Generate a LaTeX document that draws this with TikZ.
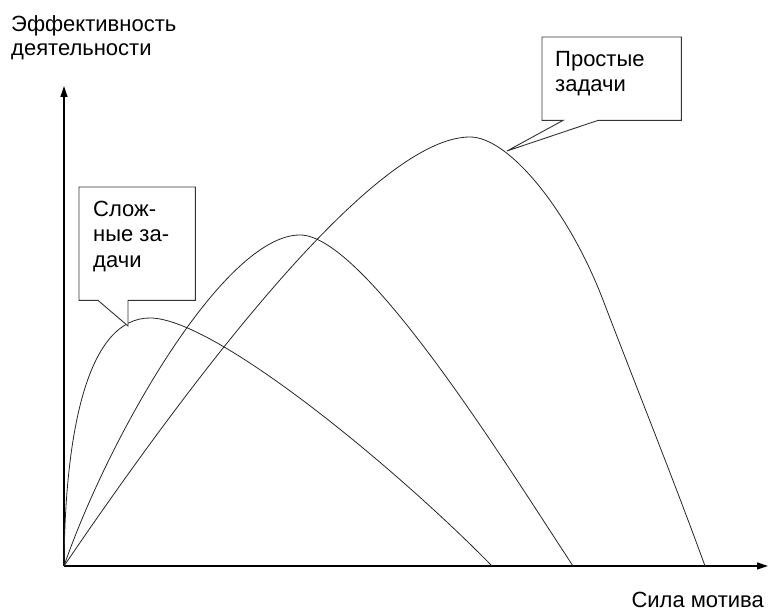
\documentclass[tikz,border=0pt]{standalone}
\usepackage{fontspec}
\setmainfont{Liberation Sans}
\usepackage{tikz}
\usetikzlibrary{arrows.meta,positioning,calc}

\begin{document}
\begin{tikzpicture}[x=1pt, y=1pt,
  axis/.style={line width=1.2pt, -{Triangle[length=11pt,width=7pt]}},
  curve/.style={line width=0.8pt, black!85},
  callout/.style={draw=black!80, line width=0.9pt, fill=white},
  calloutbox/.style={minimum width=#1, inner sep=0pt, anchor=north west},
  axislabel/.style={font=\fontsize{22}{24.5}\selectfont, align=left, inner sep=0pt},
  callouttext/.style={font=\fontsize{22}{25.5}\selectfont, align=left, inner sep=0pt}
]
  \useasboundingbox (-64,-46) rectangle (705,566);
  \coordinate (o) at (0,0);
  \coordinate (ytop) at (0,480);
  \coordinate (xend) at (704,0);
  \draw[axis] (o) -- (ytop);
  \draw[axis] (o) -- (xend);
  \node[axislabel, anchor=north west] (ylabel) at (-53,551) {Эффективность\\деятельности};
  \node[axislabel, anchor=base east] (xlabel) at (700,-42) {Сила мотива};

  % curves
  \draw[curve] (o) .. controls (1,140) and (25,248) .. (86,248)
    .. controls (150,248) and (330,100) .. (428,0);
  \draw[curve] (o) .. controls (45,130) and (160,331) .. (236,331)
    .. controls (300,331) and (440,105) .. (509,0);
  \draw[curve] (o) .. controls (160,235) and (320,429) .. (406,429)
    .. controls (445,429) and (505,355) .. (539,266)
    .. controls (575,172) and (612,80) .. (641,0);

  \coordinate (tiphard) at (64,240);
  \coordinate (tipeasy) at (443,415);

  % callouts
  \node[calloutbox=116pt, minimum height=113pt] (hard) at (15,379) {};
  \draw[callout] (hard.south west) -- (hard.north west) -- (hard.north east) -- (hard.south east)
    -- ($(hard.south west)+(49,0)$) -- (tiphard) -- ($(hard.south west)+(19,0)$) -- cycle;
  \node[callouttext, below right=13.5pt and 14pt of hard.north west] (hardtext) {Слож-\\ные за-\\дачи};

  \node[calloutbox=139pt, minimum height=83pt] (easy) at (478,529) {};
  \draw[callout] (easy.south west) -- (easy.north west) -- (easy.north east) -- (easy.south east)
    -- ($(easy.south west)+(56,0)$) -- (tipeasy) -- ($(easy.south west)+(21,0)$) -- cycle;
  \node[callouttext, below right=14pt and 13pt of easy.north west] (easytext) {Простые\\задачи};
\end{tikzpicture}
\end{document}
